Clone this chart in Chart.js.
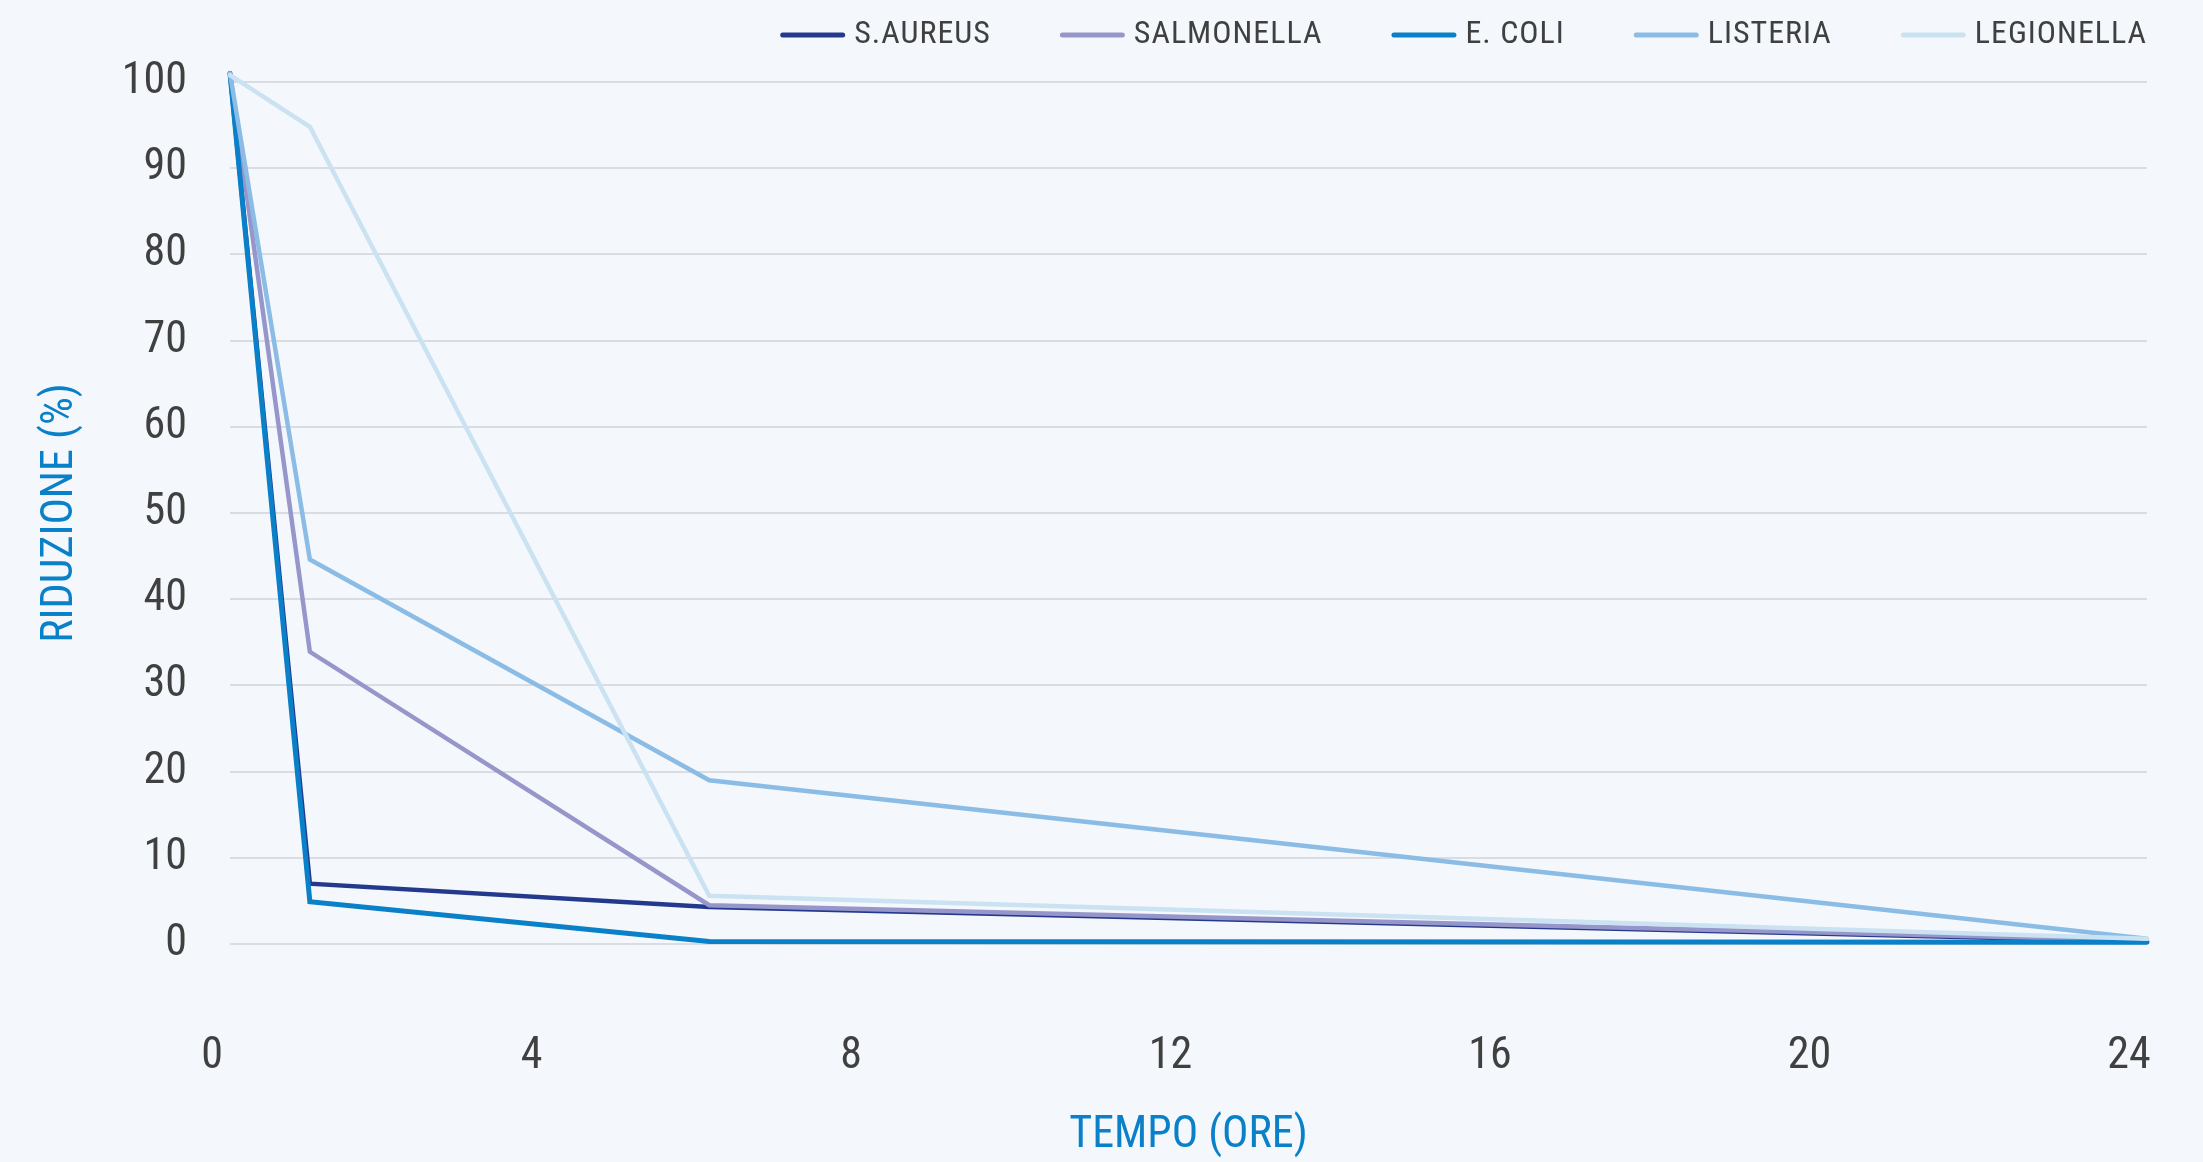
<!DOCTYPE html>
<html>
<head>
<meta charset="utf-8">
<title>Riduzione (%)</title>
<script src="https://cdn.jsdelivr.net/npm/chart.js@4.4.1/dist/chart.umd.min.js"></script>
<style>
  html, body { margin: 0; padding: 0; background: #f4f8fc; }
  #wrap { width: 2203px; height: 1162px; position: relative; }
</style>
</head>
<body>
<div id="wrap"><canvas id="chart"></canvas></div>
<script>
// time points (hours) and the reduction curves
const hours = [0, 1, 6, 24];
const seriesNames = ['S.AUREUS', 'SALMONELLA', 'E. COLI', 'LISTERIA', 'LEGIONELLA'];
const sAureus = [101, 7.0, 4.3, 0.3];
const salmonella = [101, 33.9, 4.5, 0.4];
const eColi = [101, 4.9, 0.3, 0.2];
const listeria = [101, 44.6, 19.0, 0.6];
const legionella = [100.8, 94.8, 5.6, 0.6];
const xTicks = [0, 4, 8, 12, 16, 20, 24];
const yTicks = [0, 10, 20, 30, 40, 50, 60, 70, 80, 90, 100];
const xTitle = 'TEMPO (ORE)';
const yTitle = 'RIDUZIONE (%)';

const colors = ['#24398e', '#9796ca', '#0a80c8', '#8bbce5', '#cae2f2'];
const allSeries = [sAureus, salmonella, eColi, listeria, legionella];

const FONT = '"Liberation Sans Narrow", "Roboto Condensed", "DejaVu Sans Condensed", Roboto, sans-serif';
Chart.defaults.font.family = FONT;
Chart.defaults.color = '#404040';

// legend drawn as line samples + labels, right aligned above the plot
const lineLegend = {
    id: 'lineLegend',
    afterDraw(chart) {
        const ctx = chart.ctx;
        const right = chart.chartArea.right;
        const y = 35;
        const sampleLen = 65, sampleGap = 9, itemGap = 69;
        ctx.save();
        ctx.font = '32px ' + FONT;
        ctx.letterSpacing = '1px';
        ctx.textBaseline = 'middle';
        const widths = seriesNames.map(n => ctx.measureText(n).width);
        let total = widths.reduce((a, w) => a + sampleLen + sampleGap + w, 0) + itemGap * (seriesNames.length - 1);
        let x = right - total;
        chart.data.datasets.forEach((ds, i) => {
            ctx.strokeStyle = ds.borderColor;
            ctx.lineWidth = 5;
            ctx.lineCap = 'round';
            ctx.beginPath();
            ctx.moveTo(x + 2.5, y);
            ctx.lineTo(x + sampleLen - 2.5, y);
            ctx.stroke();
            ctx.fillStyle = '#404040';
            ctx.fillText(ds.label, x + sampleLen + sampleGap, y);
            x += sampleLen + sampleGap + widths[i] + itemGap;
        });
        ctx.restore();
    }
};

const datasets = allSeries.map((vals, i) => ({
    label: seriesNames[i],
    data: hours.map((h, j) => ({ x: h, y: vals[j] })),
    borderColor: colors[i],
    backgroundColor: colors[i],
    borderWidth: i === 2 ? 5 : 4.5,
    borderCapStyle: 'round',
    pointRadius: 0,
    tension: 0,
    clip: false,
    order: allSeries.length - i
}));

new Chart(document.getElementById('chart'), {
    type: 'line',
    data: { datasets },
    options: {
        responsive: true,
        maintainAspectRatio: false,
        devicePixelRatio: 1,
        animation: false,
        events: [],
        layout: { padding: { top: 82, right: 56, left: 0, bottom: 0 } },
        plugins: {
            legend: { display: false },
            tooltip: { enabled: false }
        },
        scales: {
            x: {
                type: 'linear',
                min: 0,
                max: 24,
                afterBuildTicks: axis => { axis.ticks = xTicks.map(v => ({ value: v })); },
                afterFit: axis => {
                    axis.height = 218;
                    // tick padding is only meant to push the labels down, not inwards
                    axis.paddingLeft = 0;
                    axis.paddingRight = 0;
                },
                grid: { display: false, drawTicks: false },
                border: { display: false },
                ticks: { font: { size: 44 }, padding: 87, labelOffset: -18, maxRotation: 0, color: '#404040' },
                title: { display: true, text: xTitle, color: '#0a80c8', font: { size: 44 }, padding: { top: 0, bottom: 0 } }
            },
            y: {
                min: 0,
                max: 100,
                afterBuildTicks: axis => { axis.ticks = yTicks.map(v => ({ value: v })); },
                afterFit: axis => { axis.width = 230; },
                grid: { color: '#d9dce0', lineWidth: 2, drawTicks: false },
                border: { display: false },
                ticks: { font: { size: 44 }, padding: 43, color: '#404040' },
                title: { display: true, text: yTitle, color: '#0a80c8', font: { size: 44 }, padding: { top: 35, bottom: 0 } }
            }
        }
    },
    plugins: [lineLegend]
});
</script>
</body>
</html>
